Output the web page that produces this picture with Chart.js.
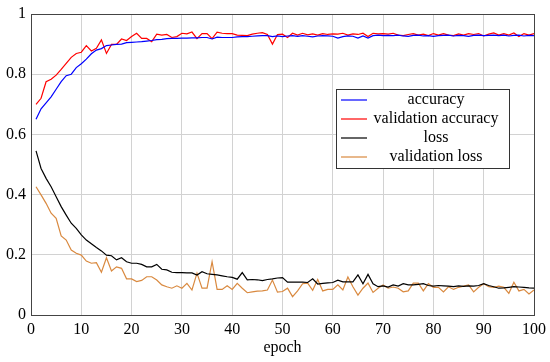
<!DOCTYPE html>
<html>
<head>
<meta charset="utf-8">
<script src="https://cdn.jsdelivr.net/npm/chart.js@4"></script>
<style>
  html, body { margin: 0; padding: 0; background: #fff; }
  #wrap { width: 550px; height: 362px; }
</style>
</head>
<body>
<div id="wrap"><canvas id="chart"></canvas></div>
<script>
const epochs = [1, 2, 3, 4, 5, 6, 7, 8, 9, 10, 11, 12, 13, 14, 15, 16, 17, 18, 19, 20,
  21, 22, 23, 24, 25, 26, 27, 28, 29, 30, 31, 32, 33, 34, 35, 36, 37, 38, 39, 40,
  41, 42, 43, 44, 45, 46, 47, 48, 49, 50, 51, 52, 53, 54, 55, 56, 57, 58, 59, 60,
  61, 62, 63, 64, 65, 66, 67, 68, 69, 70, 71, 72, 73, 74, 75, 76, 77, 78, 79, 80,
  81, 82, 83, 84, 85, 86, 87, 88, 89, 90, 91, 92, 93, 94, 95, 96, 97, 98, 99, 100];

const accuracy = [
  0.65, 0.685, 0.705, 0.725, 0.75, 0.775, 0.795, 0.80, 0.822, 0.835,
  0.85, 0.868, 0.88, 0.885, 0.895, 0.897, 0.899, 0.90, 0.905, 0.906,
  0.907, 0.908, 0.91, 0.912, 0.915, 0.916, 0.918, 0.919, 0.919, 0.92,
  0.92, 0.921, 0.921, 0.922, 0.922, 0.917, 0.923, 0.922, 0.922, 0.922,
  0.924, 0.925, 0.925, 0.926, 0.927, 0.928, 0.928, 0.925, 0.927, 0.925,
  0.927, 0.928, 0.926, 0.928, 0.926, 0.924, 0.927, 0.928, 0.927, 0.926,
  0.92, 0.925, 0.927, 0.926, 0.92, 0.927, 0.92, 0.928, 0.93, 0.928,
  0.929, 0.928, 0.93, 0.927, 0.926, 0.929, 0.93, 0.927, 0.928, 0.926,
  0.928, 0.929, 0.93, 0.927, 0.929, 0.928, 0.926, 0.929, 0.93, 0.928,
  0.929, 0.93, 0.928, 0.93, 0.927, 0.929, 0.93, 0.927, 0.929, 0.928];

const valAccuracy = [
  0.70, 0.72, 0.775, 0.783, 0.797, 0.816, 0.836, 0.856, 0.869, 0.873,
  0.895, 0.877, 0.886, 0.914, 0.869, 0.899, 0.899, 0.917, 0.912, 0.925,
  0.936, 0.919, 0.919, 0.908, 0.933, 0.93, 0.932, 0.922, 0.925, 0.936,
  0.934, 0.94, 0.918, 0.935, 0.935, 0.918, 0.94, 0.936, 0.935, 0.935,
  0.93, 0.929, 0.928, 0.933, 0.936, 0.938, 0.932, 0.90, 0.932, 0.933,
  0.922, 0.936, 0.93, 0.936, 0.931, 0.934, 0.93, 0.935, 0.932, 0.934,
  0.933, 0.936, 0.93, 0.934, 0.932, 0.936, 0.925, 0.936, 0.934, 0.935,
  0.933, 0.936, 0.93, 0.928, 0.932, 0.935, 0.93, 0.933, 0.928, 0.935,
  0.93, 0.935, 0.93, 0.928, 0.934, 0.93, 0.935, 0.932, 0.935, 0.927,
  0.933, 0.937, 0.93, 0.935, 0.93, 0.937, 0.925, 0.935, 0.93, 0.935];

const loss = [
  0.545, 0.487, 0.454, 0.426, 0.393, 0.36, 0.332, 0.305, 0.288, 0.266,
  0.249, 0.237, 0.224, 0.213, 0.199, 0.197, 0.183, 0.19, 0.177, 0.172,
  0.172, 0.168, 0.16, 0.16, 0.168, 0.152, 0.15, 0.142, 0.141, 0.141,
  0.14, 0.14, 0.133, 0.144, 0.137, 0.135, 0.133, 0.13, 0.127, 0.125,
  0.119, 0.141, 0.117, 0.118, 0.117, 0.114, 0.118, 0.12, 0.123, 0.124,
  0.109, 0.109, 0.109, 0.109, 0.108, 0.12, 0.103, 0.105, 0.107, 0.108,
  0.116, 0.11, 0.11, 0.11, 0.133, 0.104, 0.135, 0.104, 0.094, 0.097,
  0.093, 0.10, 0.096, 0.104, 0.10, 0.10, 0.102, 0.104, 0.098, 0.096,
  0.098, 0.097, 0.096, 0.094, 0.097, 0.095, 0.097, 0.096, 0.098, 0.104,
  0.098, 0.094, 0.089, 0.09, 0.092, 0.094, 0.093, 0.092, 0.09, 0.089];

const valLoss = [
  0.426, 0.399, 0.371, 0.338, 0.321, 0.263, 0.249, 0.216, 0.205, 0.199,
  0.179, 0.172, 0.174, 0.142, 0.19, 0.146, 0.16, 0.155, 0.12, 0.12,
  0.111, 0.115, 0.127, 0.127, 0.116, 0.10, 0.094, 0.089, 0.097, 0.089,
  0.105, 0.083, 0.139, 0.089, 0.089, 0.177, 0.085, 0.085, 0.097, 0.085,
  0.105, 0.089, 0.074, 0.077, 0.079, 0.08, 0.083, 0.116, 0.076, 0.078,
  0.089, 0.061, 0.08, 0.104, 0.106, 0.082, 0.118, 0.08, 0.085, 0.085,
  0.10, 0.083, 0.126, 0.094, 0.066, 0.089, 0.106, 0.075, 0.089, 0.10,
  0.089, 0.093, 0.089, 0.077, 0.08, 0.106, 0.106, 0.08, 0.104, 0.092,
  0.092, 0.077, 0.094, 0.085, 0.092, 0.096, 0.10, 0.077, 0.092, 0.104,
  0.094, 0.092, 0.096, 0.092, 0.072, 0.109, 0.08, 0.085, 0.07, 0.083];

const seriesNames = ["accuracy", "validation accuracy", "loss", "validation loss"];
const seriesColors = ["#0000ff", "#ff0000", "#000000", "#d9893f"];

const FONT = "'Liberation Serif', 'DejaVu Serif', serif";

// axis box + legend drawn by hand, pgfplots style
const boxAndLegend = {
  id: "boxAndLegend",
  afterDatasetsDraw(chart) {
    const ctx = chart.ctx;
    const a = chart.chartArea;
    ctx.save();
    ctx.strokeStyle = "#444";
    ctx.lineWidth = 1;
    ctx.strokeRect(Math.round(a.left) + 0.5, Math.round(a.top) + 0.5,
      Math.round(a.right - a.left), Math.round(a.bottom - a.top));

    // legend
    const lx = 336, ly = 89, lw = 173, lh = 79;
    ctx.fillStyle = "#fff";
    ctx.fillRect(lx, ly, lw, lh);
    ctx.strokeStyle = "#333";
    ctx.strokeRect(lx + 0.5, ly + 0.5, lw, lh);
    ctx.font = "16px " + FONT;
    ctx.textAlign = "center";
    ctx.textBaseline = "middle";
    chart.data.datasets.forEach((ds, i) => {
      const y = ly + 11 + i * 19;
      ctx.strokeStyle = ds.borderColor;
      ctx.lineWidth = 1.2;
      ctx.beginPath();
      ctx.moveTo(341, y);
      ctx.lineTo(367, y);
      ctx.stroke();
      ctx.fillStyle = "#000";
      ctx.fillText(ds.label, 436, y);
    });
    ctx.restore();
  }
};

const datasets = [accuracy, valAccuracy, loss, valLoss].map((vals, i) => ({
  label: seriesNames[i],
  data: vals,
  borderColor: seriesColors[i],
  borderWidth: 1.2,
  pointRadius: 0,
  tension: 0,
  fill: false,
}));

new Chart(document.getElementById("chart"), {
  type: "line",
  data: { labels: epochs, datasets: datasets },
  options: {
    responsive: true,
    maintainAspectRatio: false,
    animation: false,
    layout: { padding: { top: 14, right: 16, left: 0, bottom: 0 } },
    plugins: {
      legend: { display: false },
      tooltip: { enabled: false },
    },
    scales: {
      x: {
        type: "linear",
        min: 0,
        max: 100,
        ticks: { stepSize: 10, color: "#000", padding: 5, maxRotation: 0,
          font: { family: FONT, size: 16 } },
        grid: { color: "#d2d2d2", drawTicks: false },
        border: { display: false },
        title: { display: true, text: "epoch", color: "#000",
          font: { family: FONT, size: 16 }, padding: { top: 0, bottom: 5 } },
        afterFit(scale) {
          scale.height = 47;
          scale.paddingLeft = 0;
          scale.paddingRight = 0;
        },
      },
      y: {
        min: 0,
        max: 1,
        ticks: { stepSize: 0.2, color: "#000", padding: 5,
          font: { family: FONT, size: 16 },
          callback: (v) => String(Number(v.toFixed(1))) },
        grid: { color: "#d2d2d2", drawTicks: false },
        border: { display: false },
        afterFit(scale) {
          scale.width = 31;
          scale.paddingTop = 0;
          scale.paddingBottom = 0;
        },
      },
    },
  },
  plugins: [boxAndLegend],
});
</script>
</body>
</html>
